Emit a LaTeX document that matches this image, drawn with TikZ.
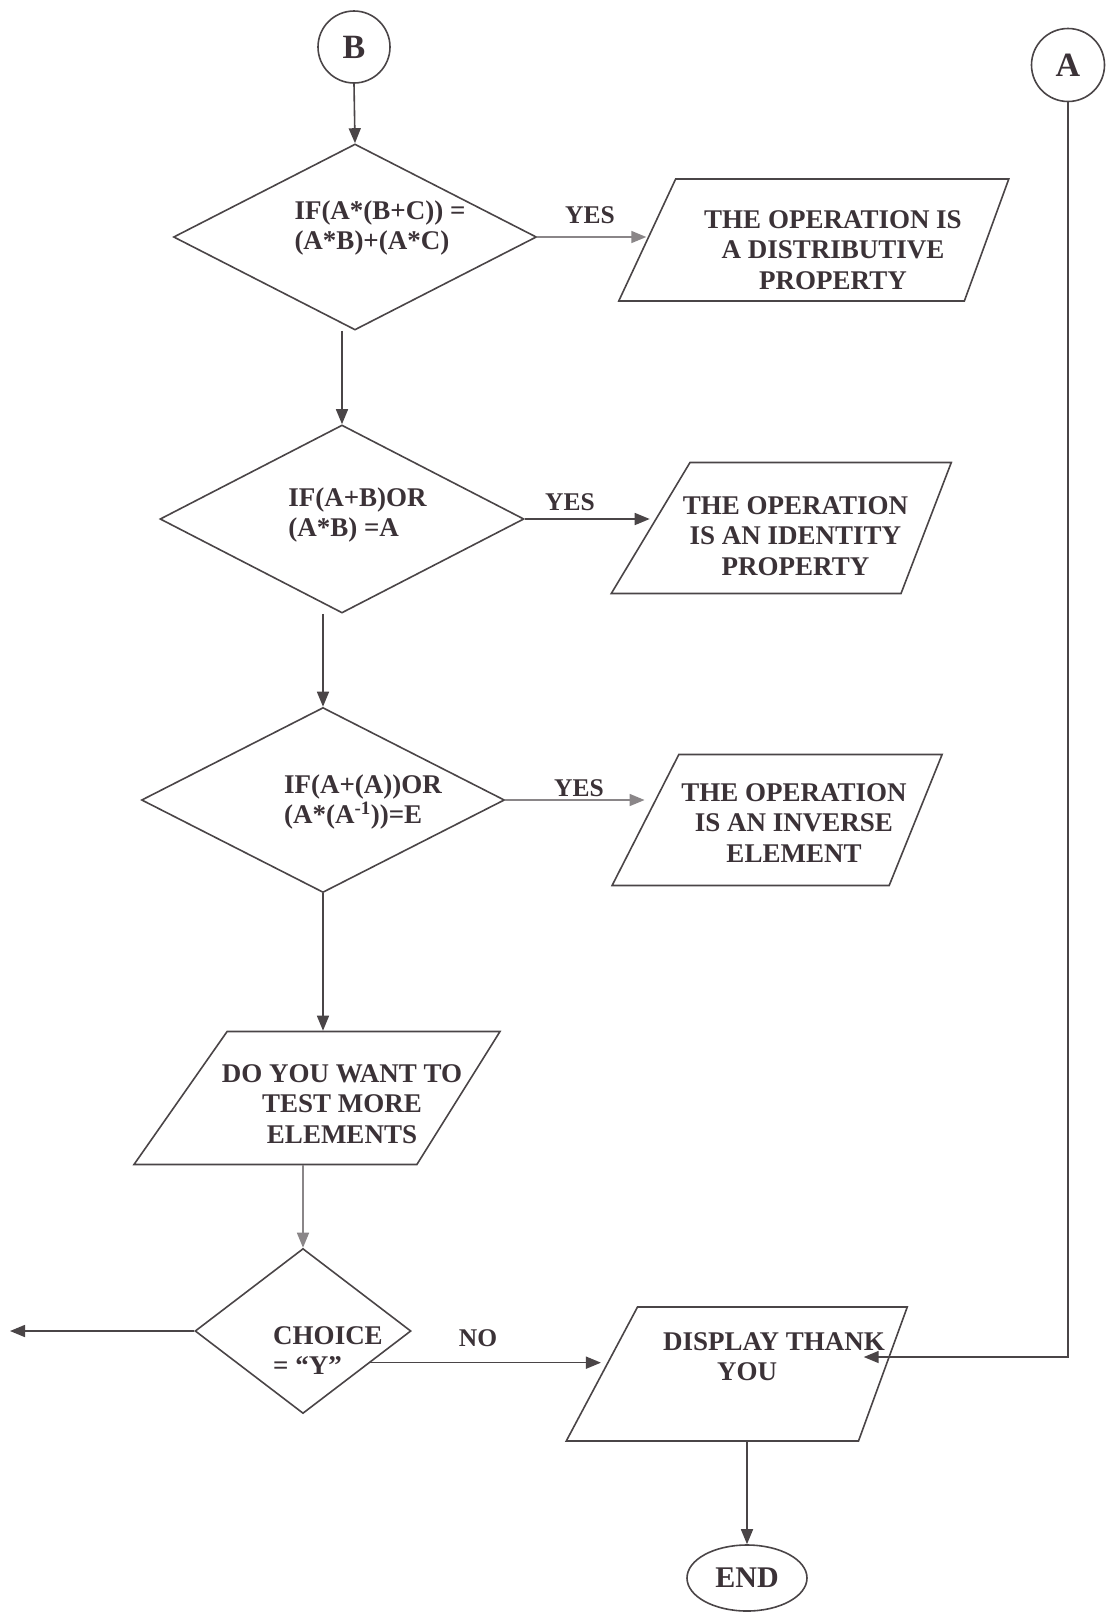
\documentclass[tikz,border=0pt]{standalone}
\usepackage{fontspec}
\setmainfont{Liberation Serif}
\usetikzlibrary{shapes.geometric,arrows.meta,calc}
\definecolor{ink}{HTML}{3B3237}
\definecolor{linec}{HTML}{4A4547}
\definecolor{lightc}{HTML}{8A8688}
\newcommand{\boxtext}[4]{\makebox[0pt]{\hspace*{#1}\raisebox{#2}[0pt][0pt]{\begin{tabular}[c]{@{}#3@{}}#4\end{tabular}}}}
\begin{document}
\begin{tikzpicture}[x=1pt,y=-1pt,
  txt/.style={font=\fontsize{27}{30.5}\selectfont\bfseries, text=ink},
  lbl/.style={font=\fontsize{25.5}{30}\selectfont\bfseries, text=ink},
  big/.style={font=\fontsize{34}{38}\selectfont\bfseries, text=ink},
  shp/.style={draw=linec, line width=1.6pt, inner sep=0pt, txt},
  decision/.style={shp, diamond},
  io/.style={shp, trapezium, trapezium stretches body, text height=#1/2, text depth=#1/2},
  conn/.style={draw=linec, line width=1.6pt, -{Triangle[length=15pt,width=12pt]}},
  connlight/.style={conn, draw=lightc}
]
\fill[white] (0,0) rectangle (1110,1617);

% terminals / connectors
\node[shp, circle, minimum size=72pt, big] (B) at (354,47) {B};
\node[shp, circle, minimum size=73pt, big] (A) at (1068,65) {A};
\node[shp, ellipse, minimum width=120pt, minimum height=66pt, font=\fontsize{30}{34}\selectfont\bfseries] (END) at (747,1578) {END};

% decisions
\node[decision, minimum width=363pt, minimum height=186pt] (D1) at (355,237)
  {\boxtext{50pt}{2.3pt}{l}{IF(A*(B+C)) =\\(A*B)+(A*C)}};
\node[decision, minimum width=364pt, minimum height=188pt] (D2) at (342,519)
  {\boxtext{31pt}{-2.7pt}{l}{IF(A+B)OR\\(A*B) =A}};
\node[decision, minimum width=363pt, minimum height=185pt] (D3) at (323,800)
  {\boxtext{80pt}{-8.7pt}{l}{IF(A+(A))OR\\(A*(A\textsuperscript{-1}))=E}};
\node[decision, minimum width=216pt, minimum height=165pt] (D4) at (303,1331)
  {\boxtext{50pt}{-28.7pt}{l}{CHOICE\\= “Y”}};

% input / output
\node[io=122pt, trapezium left angle=65, trapezium right angle=110, minimum width=390pt] (P1) at (820,240)
  {\boxtext{26pt}{-18.7pt}{c}{THE OPERATION IS\\A DISTRIBUTIVE\\PROPERTY}};
\node[io=131pt, trapezium left angle=59, trapezium right angle=111, minimum width=340pt] (P2) at (795.5,528)
  {\boxtext{0pt}{-16.7pt}{c}{THE OPERATION\\IS AN IDENTITY\\PROPERTY}};
\node[io=131pt, trapezium left angle=63, trapezium right angle=112, minimum width=330pt] (P3) at (784,820)
  {\boxtext{20pt}{-11.7pt}{c}{THE OPERATION\\IS AN INVERSE\\ELEMENT}};
\node[io=133pt, trapezium left angle=55, trapezium right angle=122, minimum width=366pt] (P4) at (322,1098)
  {\boxtext{40pt}{-14.7pt}{c}{DO YOU WANT TO\\TEST MORE\\ELEMENTS}};
\node[io=134pt, trapezium left angle=62, trapezium right angle=110, minimum width=341pt] (P5) at (748,1374)
  {\boxtext{52pt}{8.3pt}{c}{DISPLAY THANK\\\hspace*{-54pt}YOU}};

% labels
\node[lbl] (yes1) at (590,215) {YES};
\node[lbl] (yes2) at (570,502) {YES};
\node[lbl] (yes3) at (579,788) {YES};
\node[lbl] (no) at (478,1338) {NO};

% connectors
\draw[conn] (B.south) -- (D1.north);
\draw[conn] (D1.south -| D2.north) -- (D2.north);
\draw[conn] (D2.south -| D3.north) -- (D3.north);
\draw[conn] (D3.south) -- (D3.south |- P4.north);
\draw[connlight] (P4.south -| D4.north) -- (D4.north);
\draw[connlight] (D1.east) -- (D1.east -| P1.west);
\draw[conn] (D2.east) -- (D2.east -| P2.west);
\draw[connlight] (D3.east) -- (D3.east -| P3.west);
\coordinate (exitL) at (10,1331);
\draw[conn] (D4.west) -- (exitL);
\coordinate (d4out) at ($(D4.east)!0.38!(D4.south)$);
\draw[conn] (d4out) -- (d4out -| P5.west);
\draw[conn] (A.south) |- ([xshift=-20pt,yshift=17pt]P5.east);
\draw[conn] (P5.south -| END.north) -- (END.north);
\end{tikzpicture}
\end{document}
